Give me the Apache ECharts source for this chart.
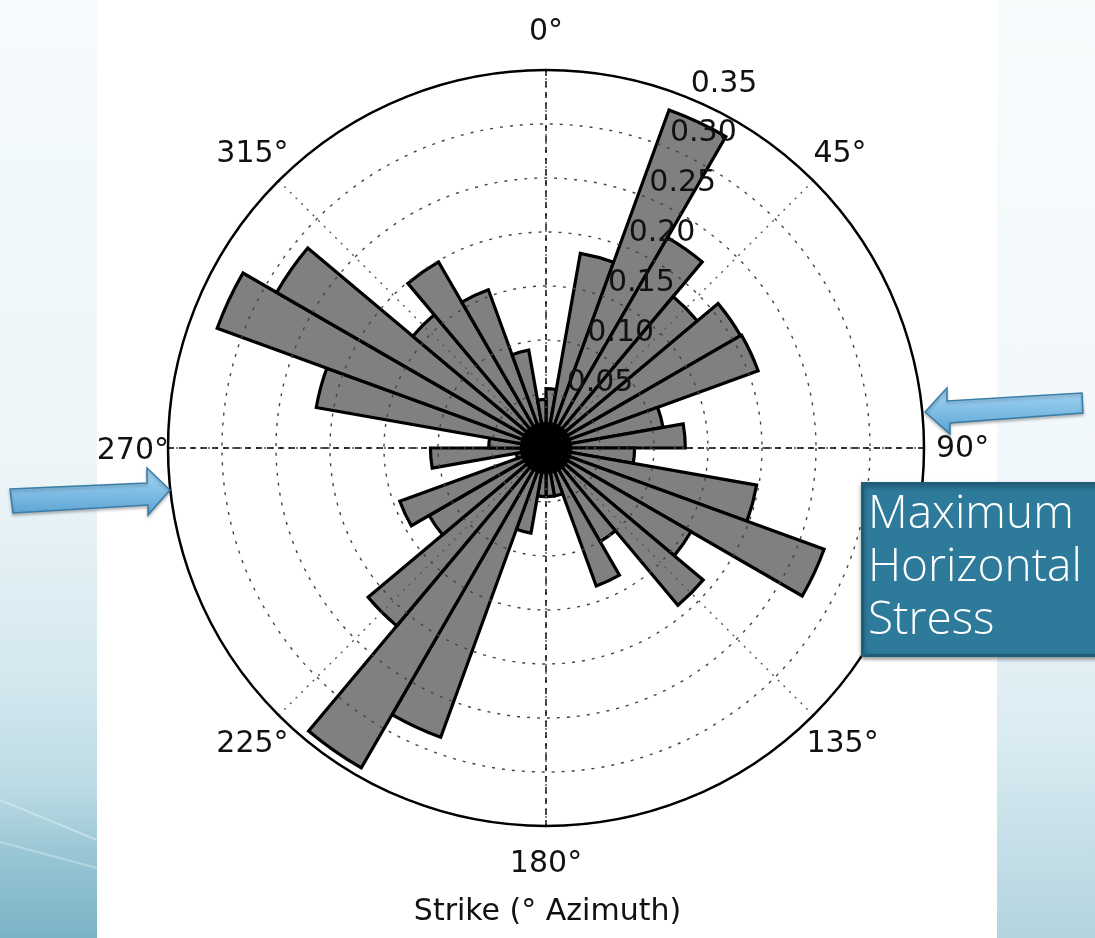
<!DOCTYPE html>
<html>
<head>
<meta charset="utf-8">
<title>Strike rose diagram</title>
<script src="https://cdn.jsdelivr.net/npm/echarts@6/dist/echarts.min.js"></script>
<style>
  html, body { margin: 0; padding: 0; width: 1095px; height: 938px; overflow: hidden; background: #ffffff; }
  .strip { position: absolute; top: 0; height: 938px; }
  .strip.left { left: 0; width: 97px;
    background: linear-gradient(to bottom, #f6fbfc 0%, #ecf5f8 50%, #d4e8ef 72%, #bcdbe4 84%, #98c6d4 91%, #7bb3c6 100%); }
  .strip.right { left: 997px; width: 98px;
    background: linear-gradient(to bottom, #f9fcfd 0%, #f0f7fa 55%, #dbecf2 78%, #b3d4df 100%); }
  #chart { position: absolute; left: 0; top: 0; width: 1095px; height: 938px; }
</style>
</head>
<body>
<div class="strip left"></div>
<div class="strip right"></div>
<div id="chart"></div>
<script>
// 10-degree strike bins, clockwise from north
const strikeBins = [
  '0-10', '10-20', '20-30', '30-40', '40-50', '50-60', '60-70', '70-80', '80-90',
  '90-100', '100-110', '110-120', '120-130', '130-140', '140-150', '150-160', '160-170', '170-180',
  '180-190', '190-200', '200-210', '210-220', '220-230', '230-240', '240-250', '250-260', '260-270',
  '270-280', '280-290', '290-300', '300-310', '310-320', '320-330', '330-340', '340-350', '350-360'
];

// relative frequency of strikes in each bin
const frequency = [
  0.055, 0.183, 0.333, 0.225, 0.183, 0.208, 0.209, 0.110, 0.129,
  0.082, 0.198, 0.274, 0.155, 0.190, 0.100, 0.136, 0.045, 0.045,
  0.045, 0.080, 0.285, 0.342, 0.215, 0.125, 0.144, 0.028, 0.107,
  0.053, 0.216, 0.324, 0.288, 0.161, 0.199, 0.156, 0.092, 0.045
];

// azimuth tick labels (degrees) and radial tick labels
const azimuthTicks = [0, 45, 90, 135, 180, 225, 270, 315];
const radialTicks = ['0.05', '0.10', '0.15', '0.20', '0.25', '0.30', '0.35'];
const radialMax = 0.35;
const radialStep = 0.05;

const CENTER = [546, 448];
const RADIUS = 378;
const LABEL_FONT = "'DejaVu Sans', sans-serif";

// padding [top, right, bottom, left] that pushes each azimuth label off the rim
const azimuthPad = {
  0: [0, 0, 73, 0],
  45: [0, 0, 43, 10],
  90: [2, 0, 0, 26],
  135: [47, 0, 0, 3],
  180: [75, 0, 0, 0],
  225: [47, 0, 0, 0],
  270: [6, 13, 0, 0],
  315: [0, 0, 43, 0]
};

const azimuthRich = {};
azimuthTicks.forEach(function (t) {
  azimuthRich['a' + t] = {
    padding: azimuthPad[t], fontSize: 30, lineHeight: 30,
    fontFamily: LABEL_FONT, color: '#111'
  };
});

const polarBox = { center: CENTER, radius: RADIUS };

const chart = echarts.init(document.getElementById('chart'), null, { renderer: 'canvas' });

chart.setOption({
  animation: false,
  backgroundColor: 'transparent',
  title: [
    {
      text: 'Maximum\nHorizontal\nStress',
      left: 862, top: 483,
      padding: [5, 30, 9, 6],
      backgroundColor: '#2d7a9b',
      borderColor: '#1f5d78',
      borderWidth: 3,
      shadowBlur: 4, shadowColor: 'rgba(0,0,0,0.35)', shadowOffsetY: 2,
      z: 20,
      textStyle: {
        color: '#ffffff', fontFamily: "'Open Sans', sans-serif",
        fontWeight: 300, fontSize: 46, lineHeight: 53
      }
    },
    {
      text: 'Strike (\u00b0 Azimuth)',
      left: 'center', top: 897, padding: 0,
      textStyle: { color: '#111', fontFamily: LABEL_FONT, fontWeight: 'normal', fontSize: 30, lineHeight: 30 }
    }
  ],
  polar: [polarBox, polarBox, polarBox, polarBox],
  angleAxis: [
    { // bins for the rose petals
      polarIndex: 0, type: 'category', data: strikeBins,
      startAngle: 90, clockwise: true, boundaryGap: true, show: false
    },
    { // rim, 45-degree spokes and azimuth labels
      polarIndex: 1, type: 'value', min: 0, max: 360, interval: 45,
      startAngle: 90, clockwise: true, z: 5,
      axisLine: { show: true, lineStyle: { color: '#000', width: 2.5 } },
      axisTick: { show: false },
      splitLine: { show: true, lineStyle: { color: '#555', type: [2, 6], width: 1.4 } },
      axisLabel: {
        show: true, margin: -14,
        formatter: function (v) {
          return azimuthTicks.indexOf(v) >= 0 ? '{a' + v + '|' + v + '\u00b0}' : '';
        },
        rich: azimuthRich
      }
    },
    { // frame for the radial value labels, set along 22.5 degrees
      polarIndex: 2, type: 'value', min: 0, max: 360, startAngle: 67.5, clockwise: true, show: false
    },
    { // N-S and E-W spokes
      polarIndex: 3, type: 'value', min: 0, max: 360, interval: 90,
      startAngle: 90, clockwise: true, z: 5,
      axisLine: { show: false }, axisTick: { show: false }, axisLabel: { show: false },
      splitLine: { show: true, lineStyle: { color: '#000', type: [6, 5], width: 1.4 } }
    }
  ],
  radiusAxis: [
    { polarIndex: 0, type: 'value', min: 0, max: radialMax, show: false },
    { // dotted rings
      polarIndex: 1, type: 'value', min: 0, max: radialMax, interval: radialStep, z: 5,
      axisLine: { show: false }, axisTick: { show: false }, axisLabel: { show: false },
      splitLine: { show: true, lineStyle: { color: '#444', type: [3, 7], width: 1.4 } }
    },
    { // ring values
      polarIndex: 2, type: 'value', min: 0, max: radialMax, interval: radialStep, z: 6,
      axisLine: { show: false }, axisTick: { show: false }, splitLine: { show: false },
      axisLabel: {
        show: true, margin: 0, align: 'left', verticalAlign: 'bottom',
        fontSize: 30, lineHeight: 30, fontFamily: LABEL_FONT, color: '#111',
        padding: 0,
        formatter: function (v) {
          const s = v.toFixed(2);
          return radialTicks.indexOf(s) >= 0 ? s : '';
        }
      }
    },
    { polarIndex: 3, type: 'value', min: 0, max: radialMax, show: false }
  ],
  series: [
    {
      type: 'bar',
      coordinateSystem: 'polar',
      polarIndex: 0,
      data: frequency,
      barCategoryGap: '0%',
      silent: true,
      z: 2,
      itemStyle: {
        color: '#808080',
        borderColor: '#000',
        borderWidth: 3.2,
        borderJoin: 'miter',
        borderMiterLimit: 40
      }
    }
  ],
  graphic: {
    elements: [
      { // faint swoosh lines on the left backdrop
        type: 'line', z: 1, silent: true,
        shape: { x1: 0, y1: 800, x2: 97, y2: 840 },
        style: { stroke: 'rgba(255,255,255,0.35)', lineWidth: 2 }
      },
      {
        type: 'line', z: 1, silent: true,
        shape: { x1: 0, y1: 842, x2: 97, y2: 868 },
        style: { stroke: 'rgba(255,255,255,0.3)', lineWidth: 2 }
      },
      { // where the petal outlines converge at the pole they merge into a solid hub
        type: 'circle', z: 12, z2: 100, silent: true,
        shape: { cx: CENTER[0], cy: CENTER[1], r: 26 },
        style: { fill: '#000', shadowBlur: 2, shadowColor: '#000' }
      },
      { // arrow pointing at the east side of the rim
        type: 'polygon', z: 30, silent: true,
        shape: { points: [[925, 412], [947, 388], [947, 401], [1082, 393], [1083, 413], [950, 423], [950, 434]] },
        style: {
          fill: { type: 'linear', x: 0, y: 0, x2: 0, y2: 1,
            colorStops: [{ offset: 0, color: '#a9d8f5' }, { offset: 1, color: '#5aa3d4' }] },
          stroke: '#3a7da6', lineWidth: 1.5,
          shadowBlur: 3, shadowColor: 'rgba(0,0,0,0.25)', shadowOffsetY: 2
        }
      },
      { // arrow pointing at the west side of the rim
        type: 'polygon', z: 30, silent: true,
        shape: { points: [[10, 489], [147, 483], [147, 468], [170, 490], [148, 515], [148, 505], [13, 513]] },
        style: {
          fill: { type: 'linear', x: 0, y: 0, x2: 0, y2: 1,
            colorStops: [{ offset: 0, color: '#a9d8f5' }, { offset: 1, color: '#5aa3d4' }] },
          stroke: '#3a7da6', lineWidth: 1.5,
          shadowBlur: 3, shadowColor: 'rgba(0,0,0,0.25)', shadowOffsetY: 2
        }
      }
    ]
  }
});
</script>
</body>
</html>
